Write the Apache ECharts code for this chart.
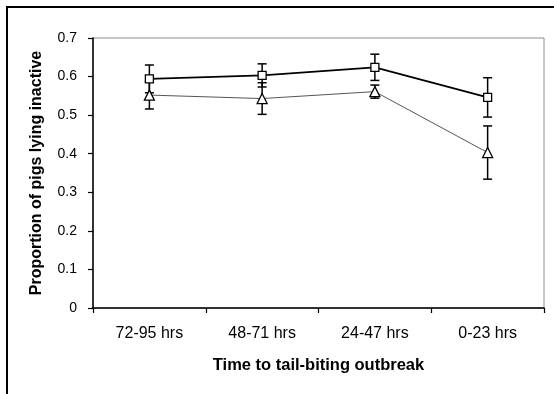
<!DOCTYPE html>
<html>
<head>
<meta charset="utf-8">
<script src="https://cdn.jsdelivr.net/npm/echarts@6/dist/echarts.min.js"></script>
<style>
  html, body { margin: 0; padding: 0; background: #fff; }
  #chart { width: 554px; height: 394px; }
</style>
</head>
<body>
<div id="chart"></div>
<script>
// categories (x axis)
const categories = ['72-95 hrs', '48-71 hrs', '24-47 hrs', '0-23 hrs']

// square series: mean and error (half length of bar)
const squareMean = [0.594, 0.603, 0.624, 0.546]
const squareErr = [0.036, 0.030, 0.034, 0.051]

// triangle series: mean and error
const triangleMean = [0.552, 0.543, 0.561, 0.403]
const triangleErr = [0.036, 0.041, 0.017, 0.069]

const yTicks = [0, 0.1, 0.2, 0.3, 0.4, 0.5, 0.6, 0.7]

const font = "'Liberation Sans', Arial, sans-serif"

// error bar data: [index, mean, err]
const toErrData = (mean, err) => mean.map((m, i) => [i, m, err[i]])

const renderErrorBar = (params, api) => {
  const idx = api.value(0)
  const m = api.value(1)
  const e = api.value(2)
  const top = api.coord([idx, m + e])
  const bot = api.coord([idx, m - e])
  const cap = 4.5
  const style = { stroke: '#000', lineWidth: 1.5 }
  return {
    type: 'group',
    children: [
      { type: 'line', shape: { x1: top[0], y1: top[1], x2: bot[0], y2: bot[1] }, style },
      { type: 'line', shape: { x1: top[0] - cap, y1: top[1], x2: top[0] + cap, y2: top[1] }, style },
      { type: 'line', shape: { x1: bot[0] - cap, y1: bot[1], x2: bot[0] + cap, y2: bot[1] }, style }
    ]
  }
}

const chart = echarts.init(document.getElementById('chart'))

const option = {
  animation: false,
  backgroundColor: '#fff',
  textStyle: { fontFamily: font, color: '#000' },
  grid: {
    left: 93,
    top: 38,
    right: 10,
    bottom: 86,
    show: true,
    borderColor: '#8c8c8c',
    borderWidth: 1
  },
  graphic: [
    {
      type: 'rect',
      shape: { x: 7, y: 7, width: 620, height: 520 },
      style: { fill: 'none', stroke: '#000', lineWidth: 2 },
      silent: true
    }
  ],
  xAxis: {
    type: 'category',
    data: categories,
    boundaryGap: true,
    axisLine: { lineStyle: { color: '#000', width: 1.5 } },
    axisTick: { show: true, length: 5, lineStyle: { color: '#000', width: 1.2 } },
    axisLabel: { fontSize: 16, color: '#000', margin: 18, fontFamily: font },
    splitLine: { show: false },
    name: 'Time to tail-biting outbreak',
    nameLocation: 'middle',
    nameGap: 49,
    nameTextStyle: { fontSize: 16.5, fontWeight: 'bold', color: '#000', fontFamily: font }
  },
  yAxis: {
    type: 'value',
    min: 0,
    max: 0.7,
    interval: 0.1,
    axisLine: { show: true, lineStyle: { color: '#000', width: 1.5 } },
    axisTick: { show: true, length: 5, lineStyle: { color: '#000', width: 1.2 } },
    axisLabel: {
      fontSize: 14,
      color: '#000',
      margin: 16,
      fontFamily: font,
      formatter: v => {
        const t = yTicks.find(y => Math.abs(y - v) < 1e-6)
        return t === 0 ? '0' : t.toFixed(1)
      }
    },
    splitLine: { show: false },
    name: 'Proportion of pigs lying inactive',
    nameLocation: 'middle',
    nameGap: 48,
    nameTextStyle: { fontSize: 16, fontWeight: 'bold', color: '#000', fontFamily: font }
  },
  series: [
    {
      name: 'sq-err',
      type: 'custom',
      renderItem: renderErrorBar,
      data: toErrData(squareMean, squareErr),
      z: 1,
      silent: true
    },
    {
      name: 'tri-err',
      type: 'custom',
      renderItem: renderErrorBar,
      data: toErrData(triangleMean, triangleErr),
      z: 1,
      silent: true
    },
    {
      name: 'triangle',
      type: 'line',
      data: triangleMean,
      symbol: 'triangle',
      symbolSize: [10, 10],
      lineStyle: { color: '#555', width: 1 },
      itemStyle: { color: '#fff', borderColor: '#000', borderWidth: 1.3 },
      z: 3
    },
    {
      name: 'square',
      type: 'line',
      data: squareMean,
      symbol: 'rect',
      symbolSize: 8,
      lineStyle: { color: '#000', width: 1.8 },
      itemStyle: { color: '#fff', borderColor: '#000', borderWidth: 1.3 },
      z: 4
    }
  ]
}

chart.setOption(option)

window.onresize = () => {
  chart.resize()
}
</script>
</body>
</html>
